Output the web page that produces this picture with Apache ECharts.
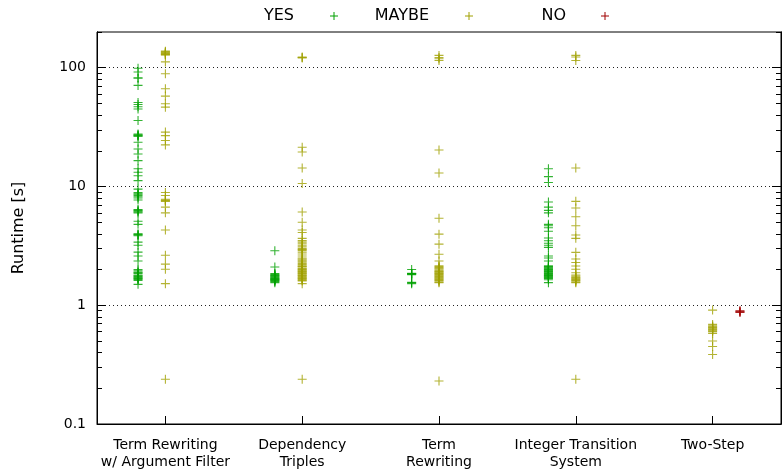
<!DOCTYPE html>
<html>
<head>
<meta charset="utf-8">
<title>Runtime by technique</title>
<script src="https://cdn.jsdelivr.net/npm/echarts@6/dist/echarts.min.js"></script>
<style>
  html, body { margin: 0; padding: 0; background: #fff; }
  #chart { width: 782px; height: 471px; }
</style>
</head>
<body>
<div id="chart"></div>
<script>
// Technique groups along the x axis
const categories = [
  'Term Rewriting\nw/ Argument Filter',
  'Dependency\nTriples',
  'Term\nRewriting',
  'Integer Transition\nSystem',
  'Two-Step'
];

// Runtimes in seconds, one list per group and result
const yesTraf = [99, 92, 82, 82, 71, 51, 49, 47, 45, 36, 27.7, 27.3, 27, 26.7, 26.5, 23.6, 20.7, 18.8, 16.5, 14.1, 13.2, 12.3, 11.2, 9.5, 8.9, 8.7, 8.6, 8.4, 8.2, 8.0, 7.7, 6.4, 6.3, 6.2, 6.1, 6.0, 5.1, 4.8, 4.0, 3.95, 3.9, 3.85, 3.4, 3.2, 2.8, 2.6, 2.36, 2.0, 1.95, 1.9, 1.88, 1.85, 1.8, 1.77, 1.75, 1.72, 1.7, 1.68, 1.65, 1.62, 1.5];
const yesDt = [2.88, 2.1, 1.85, 1.82, 1.8, 1.78, 1.76, 1.74, 1.72, 1.7, 1.68, 1.66, 1.65, 1.63, 1.62, 1.6, 1.58, 1.55];
const yesTr = [2.0, 1.86, 1.85, 1.84, 1.83, 1.81, 1.56, 1.55, 1.52];
const yesIts = [14.1, 12.1, 10.8, 7.4, 6.7, 6.3, 6.0, 4.8, 4.67, 4.5, 4.2, 3.68, 3.49, 3.33, 3.2, 3.07, 2.6, 2.5, 2.36, 2.15, 2.12, 2.1, 2.07, 2.05, 2.02, 2.0, 1.97, 1.95, 1.92, 1.9, 1.87, 1.85, 1.82, 1.8, 1.78, 1.76, 1.74, 1.72, 1.7, 1.68, 1.64, 1.55];
const yesTwoStep = [];

const maybeTraf = [138, 136, 135, 133, 132, 130, 129, 128, 112, 89, 66.5, 57.7, 49.7, 46.6, 28.7, 26.8, 24.4, 22.4, 8.9, 8.4, 7.8, 7.7, 7.6, 7.5, 6.7, 6.0, 4.3, 2.64, 2.22, 2.01, 1.52, 0.238];
const maybeDt = [123, 122, 121, 21.4, 19.5, 14.3, 10.6, 6.1, 5.0, 4.3, 4.1, 3.66, 3.5, 3.4, 3.3, 3.2, 3.1, 3.0, 2.95, 2.9, 2.8, 2.7, 2.6, 2.5, 2.45, 2.4, 2.35, 2.3, 2.25, 2.2, 2.15, 2.12, 2.1, 2.05, 2.03, 2.0, 1.98, 1.95, 1.93, 1.9, 1.88, 1.85, 1.83, 1.8, 1.78, 1.75, 1.72, 1.7, 1.68, 1.65, 1.62, 1.6, 1.52, 0.238];
const maybeTr = [127, 122, 119, 115, 20.3, 13.0, 5.4, 3.97, 3.27, 2.69, 2.36, 2.15, 2.12, 2.08, 2.05, 2.02, 1.98, 1.95, 1.92, 1.9, 1.87, 1.85, 1.82, 1.8, 1.77, 1.75, 1.72, 1.7, 1.67, 1.65, 1.62, 1.6, 1.57, 1.55, 0.23];
const maybeIts = [127, 123, 115, 14.3, 7.5, 6.6, 5.56, 4.67, 3.9, 3.66, 2.79, 2.45, 2.29, 2.14, 2.01, 1.88, 1.8, 1.76, 1.72, 1.7, 1.67, 1.65, 1.62, 1.6, 1.57, 1.55, 0.238];
const maybeTwoStep = [0.91, 0.69, 0.67, 0.66, 0.65, 0.64, 0.63, 0.62, 0.61, 0.6, 0.58, 0.5, 0.45, 0.385];

const noTwoStep = [0.9, 0.89, 0.88, 0.87];

// Axis tick values
const yMajorTicks = [0.1, 1, 10, 100];
const yMinorTicks = [0.2, 0.3, 0.4, 0.5, 0.6, 0.7, 0.8, 0.9, 2, 3, 4, 5, 6, 7, 8, 9, 20, 30, 40, 50, 60, 70, 80, 90, 200];
const xTicks = [1, 2, 3, 4, 5];

const yesGroups = [yesTraf, yesDt, yesTr, yesIts, yesTwoStep];
const maybeGroups = [maybeTraf, maybeDt, maybeTr, maybeIts, maybeTwoStep];
const noGroups = [[], [], [], [], noTwoStep];

const COLORS = { yes: '#00a000', maybe: '#a0a000', no: '#a00000' };
const FONT = 'DejaVu Sans';
const PLUS = 'path://M0,5L10,5M5,0L5,10';

function toPoints(groups, offset) {
  const pts = [];
  groups.forEach((vals, i) => vals.forEach(v => pts.push([i + 1 + offset, v])));
  return pts;
}

function plusSeries(name, data, color) {
  return {
    name, type: 'scatter', data,
    symbol: PLUS, symbolSize: 9,
    itemStyle: { color: 'rgba(0,0,0,0)', borderColor: color, borderWidth: 1.1 },
    emphasis: { disabled: true },
    silent: true, animation: false
  };
}

function yAxisBase(position, major) {
  return {
    type: 'log', logBase: 10, min: 0.1, max: 200, interval: 1,
    position,
    axisLine: { show: true, lineStyle: { color: '#000', width: 1 } },
    axisTick: { show: true, inside: true, length: major ? 9 : 5,
      customValues: major ? yMajorTicks : yMinorTicks,
      lineStyle: { color: '#000', width: 1 } },
    axisLabel: { show: false },
    splitLine: { show: false }
  };
}

// Legend: label text followed by its marker, gnuplot-key style
function legendEntry(label, textRight, markX, color) {
  const y = 16, h = 4;
  return [
    { type: 'text', x: textRight, y: y,
      style: { text: label, fill: '#000', font: '16px "' + FONT + '"',
        textAlign: 'right', textVerticalAlign: 'middle' } },
    { type: 'line', shape: { x1: markX - h, y1: y, x2: markX + h, y2: y },
      style: { stroke: color, lineWidth: 1 } },
    { type: 'line', shape: { x1: markX, y1: y - h, x2: markX, y2: y + h },
      style: { stroke: color, lineWidth: 1 } }
  ];
}

const chart = echarts.init(document.getElementById('chart'), null, { renderer: 'canvas' });

const left = yAxisBase('left', true);
left.axisLabel = { show: true, customValues: yMajorTicks, color: '#000',
  fontFamily: FONT, fontSize: 14, margin: 11,
  formatter: v => String(v) };
left.splitLine = { show: true, lineStyle: { color: '#222', width: 1, type: [1, 3] } };
left.name = 'Runtime [s]';
left.nameLocation = 'middle';
left.nameRotate = 90;
left.nameGap = 70;
left.nameTextStyle = { color: '#000', fontFamily: FONT, fontSize: 16 };

chart.setOption({
  backgroundColor: '#fff',
  animation: false,
  grid: { left: 97, top: 32, right: 1, bottom: 47, show: true,
    borderColor: '#000', borderWidth: 1, backgroundColor: 'transparent' },
  xAxis: {
    type: 'value', min: 0.5, max: 5.5,
    axisLine: { show: true, lineStyle: { color: '#000', width: 1 } },
    axisTick: { show: true, inside: true, length: 8, customValues: xTicks,
      lineStyle: { color: '#000', width: 1 } },
    axisLabel: { show: true, customValues: xTicks, color: '#000',
      fontFamily: FONT, fontSize: 14, lineHeight: 17, margin: 13,
      formatter: v => categories[Math.round(v) - 1] },
    splitLine: { show: false }
  },
  yAxis: [left, yAxisBase('left', false), yAxisBase('right', true), yAxisBase('right', false)],
  series: [
    plusSeries('YES', toPoints(yesGroups, -0.2), COLORS.yes),
    plusSeries('MAYBE', toPoints(maybeGroups, 0), COLORS.maybe),
    plusSeries('NO', toPoints(noGroups, 0.2), COLORS.no)
  ],
  graphic: [
    ...legendEntry('YES', 294, 334, COLORS.yes),
    ...legendEntry('MAYBE', 429, 469, COLORS.maybe),
    ...legendEntry('NO', 566, 605, COLORS.no)
  ]
});
</script>
</body>
</html>
